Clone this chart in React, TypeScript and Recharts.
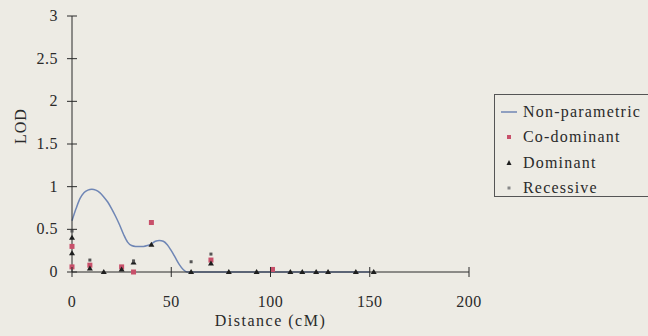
import { ComposedChart, Line, Scatter, XAxis, YAxis } from 'recharts'

const xTicks = [0, 50, 100, 150, 200]
const yTicks = [0, 0.5, 1, 1.5, 2, 2.5, 3]

const nonParamX = [0, 2, 4, 6, 8, 10, 12, 14, 16, 18, 20, 22, 24, 26, 28, 30, 32, 34, 36, 38, 40, 42, 44, 46, 48, 50, 52, 54, 56, 58, 70, 90, 110, 130, 150]
const nonParamLod = [0.6, 0.74, 0.86, 0.93, 0.96, 0.97, 0.96, 0.93, 0.88, 0.82, 0.74, 0.65, 0.55, 0.44, 0.35, 0.31, 0.3, 0.3, 0.3, 0.31, 0.33, 0.36, 0.37, 0.36, 0.32, 0.25, 0.17, 0.09, 0.03, 0, 0, 0, 0, 0, 0]

const coDomX = [0, 0, 9, 25, 31, 40, 70, 101]
const coDomLod = [0.3, 0.06, 0.08, 0.06, 0, 0.58, 0.14, 0.03]

const domX = [0, 0, 9, 16, 25, 31, 40, 60, 70, 79, 93, 110, 116, 123, 129, 143, 152]
const domLod = [0.4, 0.22, 0.04, 0, 0.03, 0.11, 0.32, 0, 0.1, 0, 0, 0, 0, 0, 0, 0, 0]

const recX = [0, 9, 31, 60, 70]
const recLod = [0.48, 0.14, 0.13, 0.12, 0.21]

const nonParam = nonParamX.map((x, i) => ({ x, y: nonParamLod[i] }))
const coDom = coDomX.map((x, i) => ({ x, y: coDomLod[i] }))
const dom = domX.map((x, i) => ({ x, y: domLod[i] }))
const rec = recX.map((x, i) => ({ x, y: recLod[i] }))

const font = '"Liberation Serif", serif'
const ink = '#2a2a2a'

const RedSquare = (p: any) => <rect x={p.cx - 2.5} y={p.cy - 2.5} width={5} height={5} fill="#c8506a" />
const BlackTri = (p: any) => <path d={`M${p.cx},${p.cy - 3} L${p.cx + 3},${p.cy + 2} L${p.cx - 3},${p.cy + 2} Z`} fill="#1e1e1e" />
const GreySquare = (p: any) => <rect x={p.cx - 1.5} y={p.cy - 1.5} width={3} height={3} fill="#555" />

const YTick = (p: any) => (
    <g>
        <line x1={p.x + 4} x2={p.x + 14} y1={p.y} y2={p.y} stroke={ink} />
        <text x={p.x - 5} y={p.y} dy={5} textAnchor="end" fontFamily={font} fontSize={16} letterSpacing={0.5} fill={ink}>{p.payload.value}</text>
    </g>
)

const XTick = (p: any) => (
    <g>
        <line x1={p.x} x2={p.x} y1={p.y - 14} y2={p.y - 4} stroke={ink} />
        <text x={p.x} y={p.y} dy={26} textAnchor="middle" fontFamily={font} fontSize={16} letterSpacing={0.5} fill={ink}>{p.payload.value}</text>
    </g>
)

const legendItems = [
    { name: 'Non-parametric', mark: <line x1={0} x2={16} y1={7} y2={7} stroke="#6f86b5" strokeWidth={1.5} /> },
    { name: 'Co-dominant', mark: <rect x={6} y={5} width={4} height={4} fill="#c8506a" /> },
    { name: 'Dominant', mark: <path d="M8,4 L10.5,9 L5.5,9 Z" fill="#1e1e1e" /> },
    { name: 'Recessive', mark: <rect x={6.5} y={5.5} width={3} height={3} fill="#888" /> },
]

export default function App() {
    return (
        <div style={{ position: 'relative', width: 648, height: 336, background: '#edebe4', overflow: 'hidden' }}>
            <style>{'body{margin:0}'}</style>
            <ComposedChart width={648} height={336} margin={{ top: 16, right: 179, bottom: 0, left: 0 }}>
                <XAxis
                    type="number"
                    dataKey="x"
                    domain={[0, 200]}
                    ticks={xTicks}
                    height={64}
                    stroke={ink}
                    tickLine={false}
                    tickSize={9}
                    tickMargin={0}
                    tick={<XTick />}
                    label={{ value: 'Distance (cM)', position: 'insideBottom', offset: 10, fill: ink, fontFamily: font, fontSize: 16, letterSpacing: 1.5 }}
                />
                <YAxis
                    type="number"
                    dataKey="y"
                    domain={[0, 3]}
                    ticks={yTicks}
                    width={72}
                    stroke={ink}
                    tickLine={false}
                    tickSize={9}
                    tickMargin={0}
                    tick={<YTick />}
                    label={{ value: 'LOD', angle: -90, position: 'insideLeft', offset: 20, fill: ink, fontFamily: font, fontSize: 16, letterSpacing: 1 }}
                />
                <Line data={nonParam} dataKey="y" type="monotone" stroke="#6f86b5" strokeWidth={1.5} dot={false} isAnimationActive={false} />
                <Scatter data={coDom} dataKey="y" shape={RedSquare} isAnimationActive={false} />
                <Scatter data={dom} dataKey="y" shape={BlackTri} isAnimationActive={false} />
                <Scatter data={rec} dataKey="y" shape={GreySquare} isAnimationActive={false} />
            </ComposedChart>
            <div style={{ position: 'absolute', left: 494, top: 94, width: 170, height: 103, border: '1px solid #555', boxSizing: 'border-box', fontFamily: font, fontSize: 16, letterSpacing: 1.2, color: ink, paddingTop: 4 }}>
                {legendItems.map((it) => (
                    <div key={it.name} style={{ display: 'flex', alignItems: 'center', height: 25.5, paddingLeft: 6 }}>
                        <svg width={16} height={14} style={{ marginRight: 6 }}>{it.mark}</svg>
                        <span>{it.name}</span>
                    </div>
                ))}
            </div>
        </div>
    )
}
